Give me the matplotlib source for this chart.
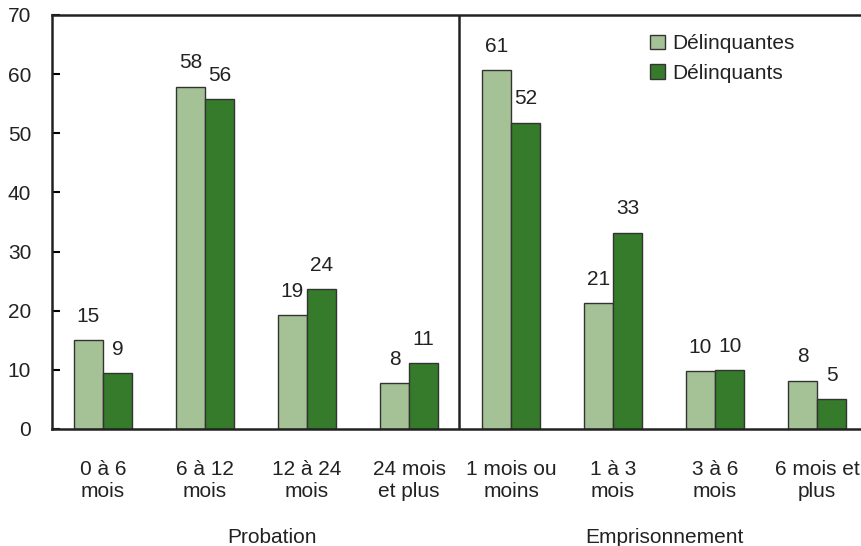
import matplotlib
matplotlib.use("Agg")
import matplotlib.pyplot as plt
import numpy as np

plt.rcParams['font.family'] = ['Liberation Sans', 'DejaVu Sans']

categories = ["0 à 6\nmois", "6 à 12\nmois", "12 à 24\nmois", "24 mois\net plus",
              "1 mois ou\nmoins", "1 à 3\nmois", "3 à 6\nmois", "6 mois et\nplus"]
groups = ["Probation", "Emprisonnement"]
femmes = [15.0, 57.9, 19.3, 7.7, 60.7, 21.3, 9.8, 8.2]
hommes = [9.4, 55.8, 23.6, 11.1, 51.8, 33.2, 9.9, 5.0]
femmes_lbl = ["15", "58", "19", "8", "61", "21", "10", "8"]
hommes_lbl = ["9", "56", "24", "11", "52", "33", "10", "5"]

light = "#a5c196"
dark = "#367b2b"
edge = "#333333"
fs = 15

fig = plt.figure(figsize=(8.62, 5.46), dpi=100)
ax = fig.add_axes([52 / 862, 1 - 429 / 546, 812 / 862, 414 / 546])

x = np.arange(len(categories))
w = 0.285
ax.bar(x - w / 2, femmes, w, color=light, edgecolor=edge, linewidth=1, label="Délinquantes")
ax.bar(x + w / 2, hommes, w, color=dark, edgecolor=edge, linewidth=1, label="Délinquants")

for xi, v, t in zip(x, femmes, femmes_lbl):
    ax.text(xi - w / 2, v + 4.0, t, ha="center", va="center", fontsize=fs, color="#222222")
for xi, v, t in zip(x, hommes, hommes_lbl):
    ax.text(xi + w / 2, v + 4.0, t, ha="center", va="center", fontsize=fs, color="#222222")

ax.set_xlim(-0.5, 7.46)
ax.set_ylim(0, 70)
ax.set_yticks(range(0, 71, 10))
ax.tick_params(axis="y", direction="in", length=6, width=1.5, labelsize=fs, pad=15,
               labelcolor="#222222")
ax.set_xticks(x)
ax.set_xticklabels(categories, fontsize=fs, linespacing=1.25, color="#222222")
ax.tick_params(axis="x", length=0, pad=22)
for s in ax.spines.values():
    s.set_linewidth(1.8)
    s.set_color("#222222")
ax.axvline(3.49, color="#222222", linewidth=1.8)

ax.text(1.66, -0.262, groups[0], transform=ax.get_xaxis_transform(), ha="center", va="center",
        fontsize=fs, color="#222222")
ax.text(5.5, -0.262, groups[1], transform=ax.get_xaxis_transform(), ha="center", va="center",
        fontsize=fs, color="#222222")

leg = ax.legend(loc="upper left", bbox_to_anchor=(0.7365, 0.953), frameon=False, fontsize=fs,
                handlelength=0.7, handleheight=0.7, handletextpad=0.35, labelspacing=0.5,
                borderaxespad=0, borderpad=0)
for t in leg.get_texts():
    t.set_color("#222222")

fig.savefig("out.png", dpi=100)
